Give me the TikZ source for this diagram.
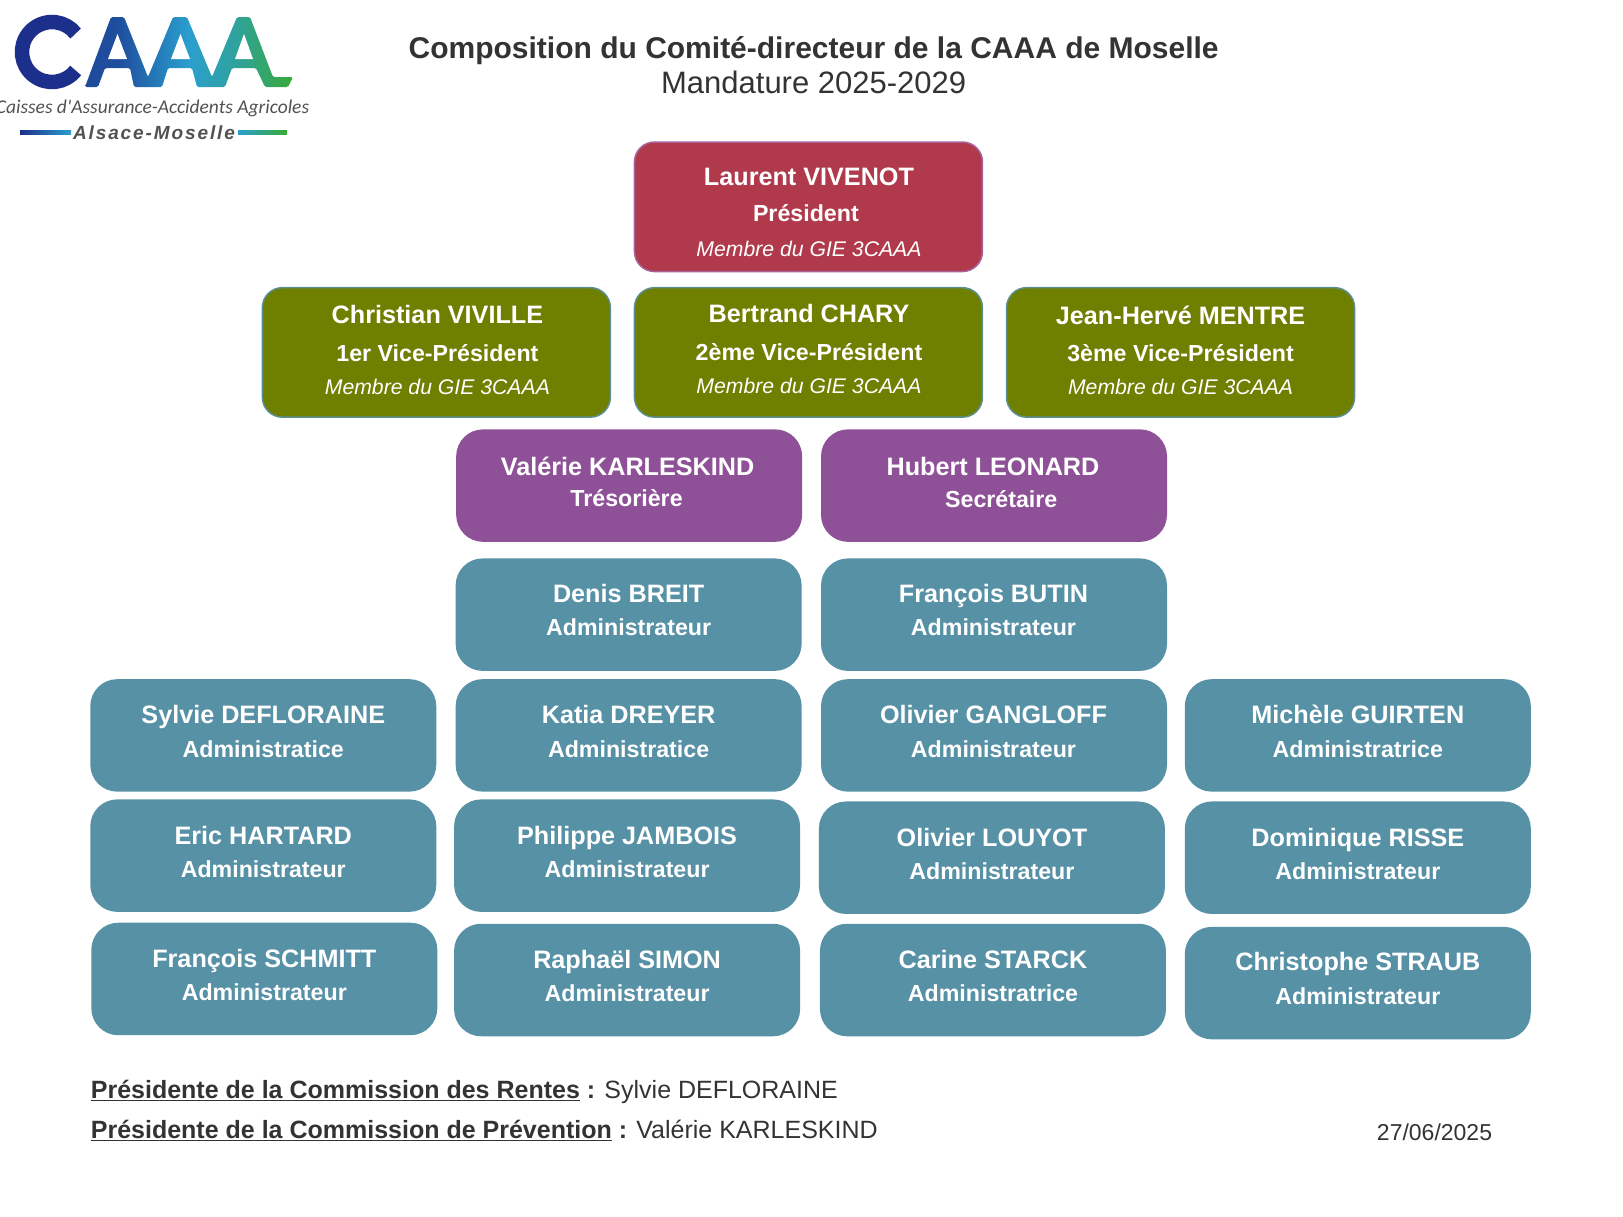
\documentclass[tikz,border=0pt]{standalone}
\usepackage{fontspec}
\setmainfont{Liberation Sans}
\newfontfamily\logofont{Carlito}
\definecolor{inkc}{HTML}{333333}
\definecolor{redc}{HTML}{B03A4C}
\definecolor{redb}{HTML}{A8629C}
\definecolor{greenc}{HTML}{6F7F00}
\definecolor{greenb}{HTML}{5B8F92}
\definecolor{purplec}{HTML}{8E5197}
\definecolor{tealc}{HTML}{5791A6}
\definecolor{navy}{HTML}{1C2F8A}
\definecolor{logoblue}{HTML}{1F4E9E}
\definecolor{logocyan}{HTML}{2A9FCE}
\definecolor{logogreen}{HTML}{39A935}
\pgfdeclarehorizontalshading{caaashade}{100bp}{color(0bp)=(logoblue!85!navy); color(25bp)=(logoblue!85!navy); color(33bp)=(logoblue); color(50bp)=(logocyan); color(62bp)=(logocyan!65!logogreen); color(75bp)=(logogreen); color(100bp)=(logogreen)}
\tikzset{
  x=1.0365pt,y=-1.0365pt,
  box/.style={rounded corners=27pt,minimum height=112.5pt,minimum width=346pt,inner sep=0pt,fill=tealc,draw=none},
  tealbox/.style={box},
  purplebox/.style={box,fill=purplec},
  redbox/.style={box,minimum width=348pt,minimum height=129.5pt,rounded corners=20pt,fill=redc,draw=redb,line width=1.5pt},
  greenbox/.style={box,minimum width=348pt,minimum height=129.5pt,rounded corners=20pt,fill=greenc,draw=greenb,line width=1.5pt},
  txt/.style={anchor=base,inner sep=0pt,text=white},
  pname/.style={txt,font=\fontsize{25.2}{30}\selectfont\bfseries},
  prole/.style={txt,font=\fontsize{23.2}{28}\selectfont\bfseries},
  pnote/.style={txt,font=\fontsize{21.2}{26}\selectfont\itshape},
  foot/.style={anchor=base west,inner sep=0pt,text=inkc,font=\fontsize{25}{30}\selectfont},
}
% style, id, box cx, cy, name x, name y, role x, role y, name, role
\newcommand{\person}[9]{%
  \node[#1] (#2) at (#3,#4) {};
  \node[pname] (#2n) at (#5,#6) {#9};
  \personrole{#2}}
\newcommand{\personrole}[5]{%
  \node[prole] (#1r) at (#2,#3) {#5};
  \node[coordinate] (#1c) at (#2,#4) {};}
\begin{document}
\begin{tikzpicture}
\useasboundingbox (0pt,0pt) rectangle (1623pt,-1216pt);
% logo
\begin{scope}[x=1pt,y=-1pt]
\draw[navy,line width=14.5pt] (52,52) ++(38:30) arc[start angle=-38,end angle=-322,radius=30pt];
\shade[shading=caaashade,rounded corners=1.5pt] (85,87) -- (111,17) -- (124,17) -- (148,77) -- (173,17) -- (187,17) -- (212,77) -- (237,17) -- (250,17) -- (273,77) -- (293,77) -- (288,87) -- (265,87) -- (256,68) -- (232,68) -- (225,87) -- (197,87) -- (192,68) -- (168,68) -- (162,87) -- (134,87) -- (130,68) -- (105,68) -- (98,87) -- cycle;
\fill[white] (117.5,34) -- (108,59) -- (127,59) -- cycle;
\fill[white] (180.5,34) -- (171,59) -- (190,59) -- cycle;
\fill[white] (244,34) -- (235,59) -- (253,59) -- cycle;
\node[anchor=base,inner sep=0pt,text=inkc!85] (logotext) at (152.5,113) {\logofont\itshape\fontsize{19.5}{22}\selectfont Caisses d'Assurance-Accidents Agricoles};
\node[anchor=base,inner sep=0pt,text=inkc!85] (logoregion) at (154,139) {\addfontfeature{LetterSpace=10}\bfseries\itshape\fontsize{19}{22}\selectfont Alsace-Moselle};
\shade[left color=navy,right color=logocyan] (20,130) rectangle (71,134);
\shade[left color=logocyan,right color=logogreen] (238,130) rectangle (287,134);
\end{scope}
% title
\node[anchor=base,inner sep=0pt,text=inkc,font=\fontsize{30}{36}\selectfont\bfseries] (title) at (785,56) {Composition du Comité-directeur de la CAAA de Moselle};
\node[anchor=base,inner sep=0pt,text=inkc,font=\fontsize{31}{36}\selectfont] (subtitle) at (785,90) {Mandature 2025-2029};
% president
\node[redbox] (pres) at (780,199.5) {};
\node[pname] (presn) at (780.5,179) {Laurent VIVENOT};
\node[prole] (presr) at (777.5,214) {Président};
\node[pnote] (presm) at (780.5,247) {Membre du GIE 3CAAA};
% vice-presidents
\node[greenbox] (vpa) at (421,340) {};
\node[pname] (vpan) at (422,312) {Christian VIVILLE};
\node[prole] (vpar) at (422,349) {1er Vice-Président};
\node[pnote] (vpam) at (422,381) {Membre du GIE 3CAAA};
\node[greenbox] (vpb) at (780,340) {};
\node[pname] (vpbn) at (780.5,311) {Bertrand CHARY};
\node[prole] (vpbr) at (780.5,347.5) {2ème Vice-Président};
\node[pnote] (vpbm) at (780.5,380) {Membre du GIE 3CAAA};
\node[greenbox] (vpc) at (1139,340) {};
\node[pname] (vpcn) at (1139,313) {Jean-Hervé MENTRE};
\node[prole] (vpcr) at (1139,349) {3ème Vice-Président};
\node[pnote] (vpcm) at (1139,381) {Membre du GIE 3CAAA};
% treasurer, secretary
\node[purplebox] (tre) at (607,468.5) {};
\node[pname] (tren) at (605.5,459) {Valérie KARLESKIND};
\node[prole] (trer) at (604.5,489) {Trésorière};
\node[purplebox] (sec) at (959,468.5) {};
\node[pname] (secn) at (958,459) {Hubert LEONARD};
\node[prole] (secr) at (966,490) {Secrétaire};
% administrators
\node[tealbox] (a1) at (606.5,593) {};
\node[pname] (a1n) at (606.5,581) {Denis BREIT};
\node[prole] (a1r) at (606.5,613.5) {Administrateur};
\node[tealbox] (a2) at (959,593) {};
\node[pname] (a2n) at (958.5,581) {François BUTIN};
\node[prole] (a2r) at (958.5,613.5) {Administrateur};
\node[tealbox] (a3) at (254,709.5) {};
\node[pname] (a3n) at (254,698) {Sylvie DEFLORAINE};
\node[prole] (a3r) at (254,730.5) {Administratice};
\node[tealbox] (a4) at (606.5,709.5) {};
\node[pname] (a4n) at (606.5,698) {Katia DREYER};
\node[prole] (a4r) at (606.5,730.5) {Administratice};
\node[tealbox] (a5) at (959,709.5) {};
\node[pname] (a5n) at (958.5,698) {Olivier GANGLOFF};
\node[prole] (a5r) at (958.5,730.5) {Administrateur};
\node[tealbox] (a6) at (1310,709.5) {};
\node[pname] (a6n) at (1310,698) {Michèle GUIRTEN};
\node[prole] (a6r) at (1310,730.5) {Administratrice};
\node[tealbox] (a7) at (254,825.5) {};
\node[pname] (a7n) at (254,815) {Eric HARTARD};
\node[prole] (a7r) at (254,847) {Administrateur};
\node[tealbox] (a8) at (605,825.5) {};
\node[pname] (a8n) at (605,815) {Philippe JAMBOIS};
\node[prole] (a8r) at (605,847) {Administrateur};
\node[tealbox] (a9) at (957,827.5) {};
\node[pname] (a9n) at (957,817) {Olivier LOUYOT};
\node[prole] (a9r) at (957,849) {Administrateur};
\node[tealbox] (a10) at (1310,827.5) {};
\node[pname] (a10n) at (1310,817) {Dominique RISSE};
\node[prole] (a10r) at (1310,849) {Administrateur};
\node[tealbox] (a11) at (255,944.5) {};
\node[pname] (a11n) at (255,933) {François SCHMITT};
\node[prole] (a11r) at (255,965.5) {Administrateur};
\node[tealbox] (a12) at (605,945.5) {};
\node[pname] (a12n) at (605,934.5) {Raphaël SIMON};
\node[prole] (a12r) at (605,966.5) {Administrateur};
\node[tealbox] (a13) at (958,945.5) {};
\node[pname] (a13n) at (958,934.5) {Carine STARCK};
\node[prole] (a13r) at (958,966.5) {Administratrice};
\node[tealbox] (a14) at (1310,948.5) {};
\node[pname] (a14n) at (1310,936) {Christophe STRAUB};
\node[prole] (a14r) at (1310,969) {Administrateur};
% footer
\node[foot] (f1) at (87.5,1060) {\textbf{\underline{Présidente de la Commission des Rentes} :} Sylvie DEFLORAINE};
\node[foot] (f2) at (87.5,1098) {\textbf{\underline{Présidente de la Commission de Prévention} :} Valérie KARLESKIND};
\node[anchor=base,inner sep=0pt,text=inkc,font=\fontsize{23}{28}\selectfont] (date) at (1384,1100) {27/06/2025};
\end{tikzpicture}
\end{document}
